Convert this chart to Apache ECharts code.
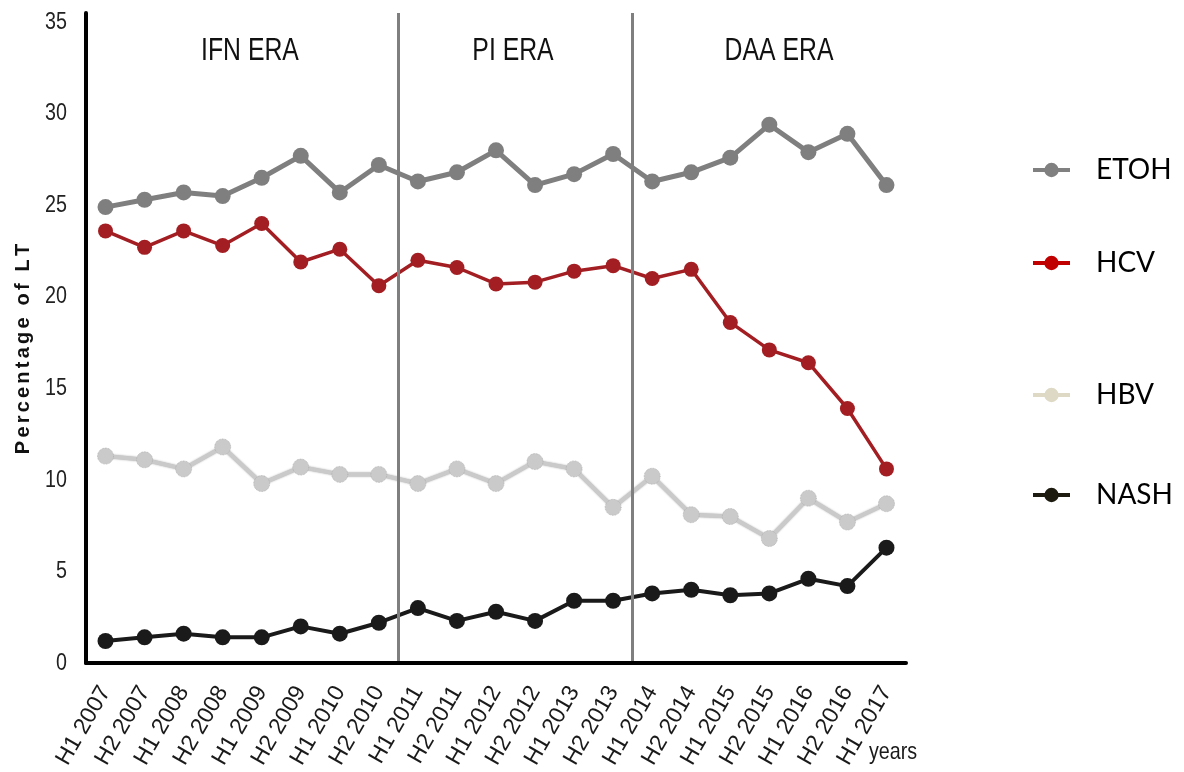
<!DOCTYPE html>
<html>
<head>
<meta charset="utf-8">
<script src="https://cdn.jsdelivr.net/npm/echarts@6/dist/echarts.min.js"></script>
<style>
  html, body { margin: 0; padding: 0; background: #fff; }
  #chart { width: 1184px; height: 772px; }
</style>
</head>
<body>
<div id="chart"></div>
<script>
// Half-year periods on the x axis
const periods = ['H1 2007', 'H2 2007', 'H1 2008', 'H2 2008', 'H1 2009', 'H2 2009', 'H1 2010', 'H2 2010',
  'H1 2011', 'H2 2011', 'H1 2012', 'H2 2012', 'H1 2013', 'H2 2013', 'H1 2014', 'H2 2014',
  'H1 2015', 'H2 2015', 'H1 2016', 'H2 2016', 'H1 2017'];

// Share of liver transplants by aetiology (%)
const etoh = [24.9, 25.3, 25.7, 25.5, 26.5, 27.7, 25.7, 27.2, 26.3, 26.8, 28.0, 26.1, 26.7, 27.8, 26.3, 26.8, 27.6, 29.4, 27.9, 28.9, 26.1];
const hcv  = [23.6, 22.7, 23.6, 22.8, 24.0, 21.9, 22.6, 20.6, 22.0, 21.6, 20.7, 20.8, 21.4, 21.7, 21.0, 21.5, 18.6, 17.1, 16.4, 13.9, 10.6];
const hbv  = [11.3, 11.1, 10.6, 11.8, 9.8, 10.7, 10.3, 10.3, 9.8, 10.6, 9.8, 11.0, 10.6, 8.5, 10.2, 8.1, 8.0, 6.8, 9.0, 7.7, 8.7];
const nash = [1.2, 1.4, 1.6, 1.4, 1.4, 2.0, 1.6, 2.2, 3.0, 2.3, 2.8, 2.3, 3.4, 3.4, 3.8, 4.0, 3.7, 3.8, 4.6, 4.2, 6.3];

// Treatment eras: label and index of the first period in each era
const eraNames = ['IFN ERA', 'PI ERA', 'DAA ERA'];
const eraStarts = [0, 8, 14];

// Y axis tick labels
const yTicks = [0, 5, 10, 15, 20, 25, 30, 35];

const yTitle = 'Percentage of LT';
const xTitle = 'years';

const SANS = "'Liberation Sans', Arial, sans-serif";
// no condensed face is available, so narrow captions are squeezed horizontally
const SQUEEZE = 0.82;

const chart = echarts.init(document.getElementById('chart'), null, { renderer: 'canvas' });

const seriesDefs = [
  { name: 'ETOH', data: etoh, color: '#7f7f7f', width: 5,   size: 16, legendColor: '#808080', edge: null },
  { name: 'HCV',  data: hcv,  color: '#a31e22', width: 3.5, size: 15, legendColor: '#c00000', edge: null },
  { name: 'HBV',  data: hbv,  color: '#cacaca', width: 4,   size: 16, legendColor: '#ddd9c4', edge: '#a9a9a9' },
  { name: 'NASH', data: nash, color: '#1a1a1a', width: 4,   size: 16, legendColor: '#1d1b10', edge: null }
];

// Legend rows sit at their own heights beside the plot
const legendCenters = [170, 263, 395, 495];

// Spaced-out letters for the y-axis title
const spacedTitle = yTitle.split('').map(ch => '{s|' + (ch === ' ' ? '\u00a0' : ch) + '}').join('');

const lineSeries = seriesDefs.map(s => ({
  name: s.name,
  type: 'line',
  data: s.data,
  z: 3,
  symbol: 'circle',
  symbolSize: s.size,
  showSymbol: true,
  lineStyle: s.edge
    ? { color: s.color, width: s.width, shadowColor: s.edge, shadowBlur: 2 }
    : { color: s.color, width: s.width },
  itemStyle: s.edge
    ? { color: s.color, borderColor: s.edge, borderWidth: 0.8, borderType: 'dotted' }
    : { color: s.color },
  emphasis: { disabled: true }
}));

// Era boundaries, drawn on a hidden linear axis spanning the category bands
const eraSeries = {
  name: 'eras',
  type: 'line',
  xAxisIndex: 1,
  yAxisIndex: 0,
  data: [],
  z: 1,
  silent: true,
  markLine: {
    silent: true,
    symbol: 'none',
    label: { show: false },
    lineStyle: { color: '#7f7f7f', width: 3, type: 'solid' },
    emphasis: { disabled: true },
    data: eraStarts.slice(1).map(i => ({ xAxis: i }))
  }
};

chart.setOption({
  animation: false,
  grid: { left: 86, right: 278, top: 13, bottom: 109, containLabel: false },
  xAxis: [
    {
      type: 'category',
      data: periods,
      boundaryGap: true,
      axisLine: { show: true, lineStyle: { color: '#000', width: 4 } },
      axisTick: { show: false },
      splitLine: { show: false },
      axisLabel: {
        interval: 0,
        rotate: 60,
        margin: 25,
        fontFamily: SANS,
        fontSize: 23,
        color: '#1a1a1a'
      },
      z: 5
    },
    {
      type: 'value',
      min: 0,
      max: periods.length,
      show: true,
      axisLine: { show: false },
      axisTick: { show: false },
      axisLabel: { show: false },
      splitLine: { show: false }
    }
  ],
  yAxis: {
    type: 'value',
    min: 0,
    max: 35.5,
    interval: 5,
    axisLine: { show: true, lineStyle: { color: '#000', width: 4 } },
    axisTick: { show: false },
    splitLine: { show: false },
    axisLabel: { show: false },
    z: 5
  },
  legend: seriesDefs.map((s, i) => ({
    orient: 'vertical',
    left: 1031,
    top: legendCenters[i] - 17,
    padding: 0,
    itemWidth: 37,
    itemHeight: 18,
    selectedMode: false,
    data: [{
      name: s.name,
      itemStyle: { color: s.legendColor, borderWidth: 0, shadowBlur: 0 },
      lineStyle: { color: s.legendColor, width: 4, shadowBlur: 0 }
    }],
    textStyle: {
      fontFamily: "Lato, 'Open Sans', sans-serif",
      fontSize: 28,
      color: '#000',
      padding: [0, 0, 0, 21],
      lineHeight: 34
    }
  })),
  series: lineSeries.concat([eraSeries])
});

// Captions and tick labels, placed through the axes' own scales
const graphics = [];

yTicks.forEach((v, i) => {
  graphics.push({
    type: 'text',
    id: 'ytick' + i,
    x: 67,
    y: chart.convertToPixel({ yAxisIndex: 0 }, v),
    scaleX: SQUEEZE,
    style: {
      text: String(v),
      align: 'right',
      verticalAlign: 'middle',
      fontFamily: SANS,
      fontSize: 24,
      fill: '#222'
    }
  });
});

const eraX = [250, 513, 779];
eraNames.forEach((t, i) => {
  graphics.push({
    type: 'text',
    id: 'era' + i,
    x: eraX[i],
    y: 51,
    scaleX: 0.8,
    style: {
      text: t,
      align: 'center',
      verticalAlign: 'middle',
      fontFamily: SANS,
      fontSize: 31,
      fill: '#111'
    }
  });
});

graphics.push({
  type: 'text',
  id: 'ytitle',
  x: 23,
  y: 349,
  rotation: Math.PI / 2,
  style: {
    text: spacedTitle,
    align: 'center',
    verticalAlign: 'middle',
    rich: {
      s: {
        fontFamily: SANS,
        fontWeight: 'bold',
        fontSize: 20,
        fill: '#111',
        padding: [0, 1.6, 0, 1.6]
      }
    }
  }
});

graphics.push({
  type: 'text',
  id: 'xtitle',
  x: 893,
  y: 752,
  scaleX: SQUEEZE,
  style: {
    text: xTitle,
    align: 'center',
    verticalAlign: 'middle',
    fontFamily: SANS,
    fontSize: 24,
    fill: '#1a1a1a'
  }
});

chart.setOption({ graphic: graphics });
</script>
</body>
</html>
